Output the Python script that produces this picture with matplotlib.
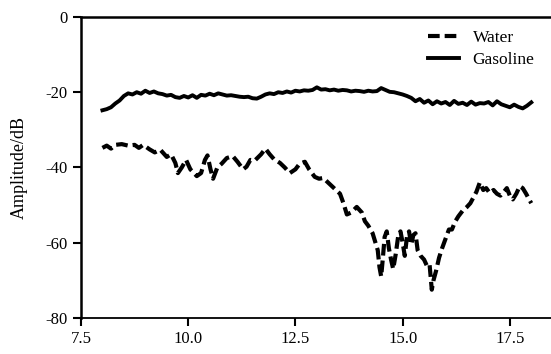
import numpy as np
import matplotlib
matplotlib.use("Agg")
import matplotlib.pyplot as plt

plt.rcParams['font.family'] = ['Liberation Serif', 'DejaVu Serif']

# gasoline curve, 0.1 steps from 8.0 to 18.0
gas_x = np.round(np.arange(8.0, 18.05, 0.1), 2)
gas_y = [-24.8, -24.5, -24.0, -23.0, -22.2, -21.0, -20.3, -20.6, -20.0, -20.4,
         -19.6, -20.2, -19.8, -20.3, -20.5, -20.9, -20.7, -21.3, -21.5, -21.0,
         -21.4, -20.8, -21.5, -20.7, -20.9, -20.4, -20.8, -20.3, -20.6, -20.9,
         -20.8, -21.0, -21.2, -21.3, -21.2, -21.6, -21.7, -21.2, -20.6, -20.3,
         -20.5, -20.0, -20.2, -19.8, -20.1, -19.6, -19.8, -19.5, -19.6, -19.4,
         -18.7, -19.3, -19.2, -19.5, -19.3, -19.6, -19.4, -19.5, -19.8, -19.6,
         -19.7, -19.9, -19.6, -19.8, -19.7, -18.9, -19.4, -19.9, -20.0, -20.3,
         -20.6, -21.0, -21.5, -22.4, -21.8, -22.8, -22.2, -23.2, -22.4, -23.0,
         -22.6, -23.4, -22.3, -23.1, -22.8, -23.4, -22.5, -23.3, -22.9, -23.0,
         -22.6, -23.5, -22.4, -23.2, -23.6, -24.0, -23.3, -23.9, -24.3, -23.6,
         -22.7]

water_x = [8.0, 8.1, 8.2, 8.3, 8.45, 8.6, 8.75, 8.85, 8.95, 9.1, 9.22, 9.35,
           9.5, 9.6, 9.7, 9.76, 9.85, 9.95, 10.05, 10.2, 10.3, 10.39, 10.45,
           10.52, 10.58, 10.68, 10.78, 10.9, 11.04, 11.15, 11.28, 11.36, 11.45,
           11.55, 11.7, 11.8, 11.9, 12.0, 12.14, 12.25, 12.37, 12.5, 12.6,
           12.72, 12.82, 12.95, 13.05, 13.15, 13.26, 13.4, 13.54, 13.62, 13.7,
           13.8, 13.93, 14.05, 14.12, 14.2, 14.3, 14.38, 14.42, 14.46, 14.5,
           14.54, 14.58, 14.63, 14.68, 14.73, 14.78, 14.84, 14.9, 14.95, 15.0,
           15.05, 15.1, 15.15, 15.2, 15.25, 15.3, 15.35, 15.42, 15.5, 15.58,
           15.63, 15.68, 15.72, 15.78, 15.85, 15.92, 16.0, 16.08, 16.15, 16.22,
           16.3, 16.4, 16.5, 16.58, 16.65, 16.72, 16.8, 16.88, 16.95, 17.03,
           17.12, 17.2, 17.28, 17.36, 17.43, 17.5, 17.57, 17.65, 17.73, 17.8,
           17.88, 17.95, 18.0]
water_y = [-34.8, -34.2, -35.0, -34.0, -33.8, -34.2, -34.0, -34.8, -34.0, -35.2,
           -36.0, -35.3, -37.2, -36.5, -38.8, -41.5, -40.0, -38.0, -40.5, -42.3,
           -41.5, -38.0, -36.8, -40.5, -43.0, -40.0, -39.0, -37.5, -37.0, -38.5,
           -40.5, -39.8, -38.0, -38.2, -36.5, -35.0, -36.5, -37.8, -38.8, -40.0,
           -41.5, -40.5, -39.0, -38.5, -40.5, -42.5, -43.0, -42.8, -44.0, -45.5,
           -47.0, -49.5, -52.5, -52.0, -50.5, -52.0, -54.3, -55.5, -57.5, -60.5,
           -62.0, -66.5, -69.0, -64.0, -58.5, -57.0, -61.5, -64.5, -67.0, -63.0,
           -58.0, -57.0, -60.0, -63.5, -58.5, -57.0, -60.5, -58.0, -57.5, -62.0,
           -63.5, -64.5, -66.5, -66.0, -72.5, -70.0, -67.5, -64.0, -61.5, -59.0,
           -56.5, -56.5, -54.5, -53.0, -51.5, -50.5, -49.5, -48.0, -46.5, -44.0,
           -46.0, -45.5, -46.8, -46.0, -47.0, -47.5, -46.5, -45.5, -47.5, -48.5,
           -47.0, -45.0, -45.5, -47.0, -48.5, -49.5]

x_ticks = [7.5, 10.0, 12.5, 15.0, 17.5]
y_ticks = [0, -20, -40, -60, -80]

fig = plt.figure(figsize=(5.51, 3.54), dpi=100)
ax = fig.add_axes([0.147, 0.102, 0.853, 0.85])

ax.plot(water_x, water_y, color='black', lw=3.0, linestyle=(0, (2.8, 1.2)),
        label='Water')
ax.plot(gas_x, gas_y, color='black', lw=2.8, label='Gasoline')

ax.set_xlim(7.5, 18.46)
ax.set_ylim(-80, 0)
ax.set_xticks(x_ticks)
ax.set_xticklabels(['%.1f' % t for t in x_ticks])
ax.set_yticks(y_ticks)
ax.set_yticklabels([str(t) for t in y_ticks])
ax.tick_params(labelsize=12, width=1.5, length=6, direction='out')
ax.set_ylabel('Amplitude/dB', fontsize=13, labelpad=13)

ax.spines['right'].set_visible(False)
for s in ['left', 'top', 'bottom']:
    ax.spines[s].set_linewidth(1.8)
ax.spines['bottom'].set_linewidth(1.3)

ax.legend(loc='upper right', frameon=False, fontsize=12.5, handlelength=1.75,
          bbox_to_anchor=(0.998, 1.008), labelspacing=0.3)

fig.savefig('out.png', dpi=100)
